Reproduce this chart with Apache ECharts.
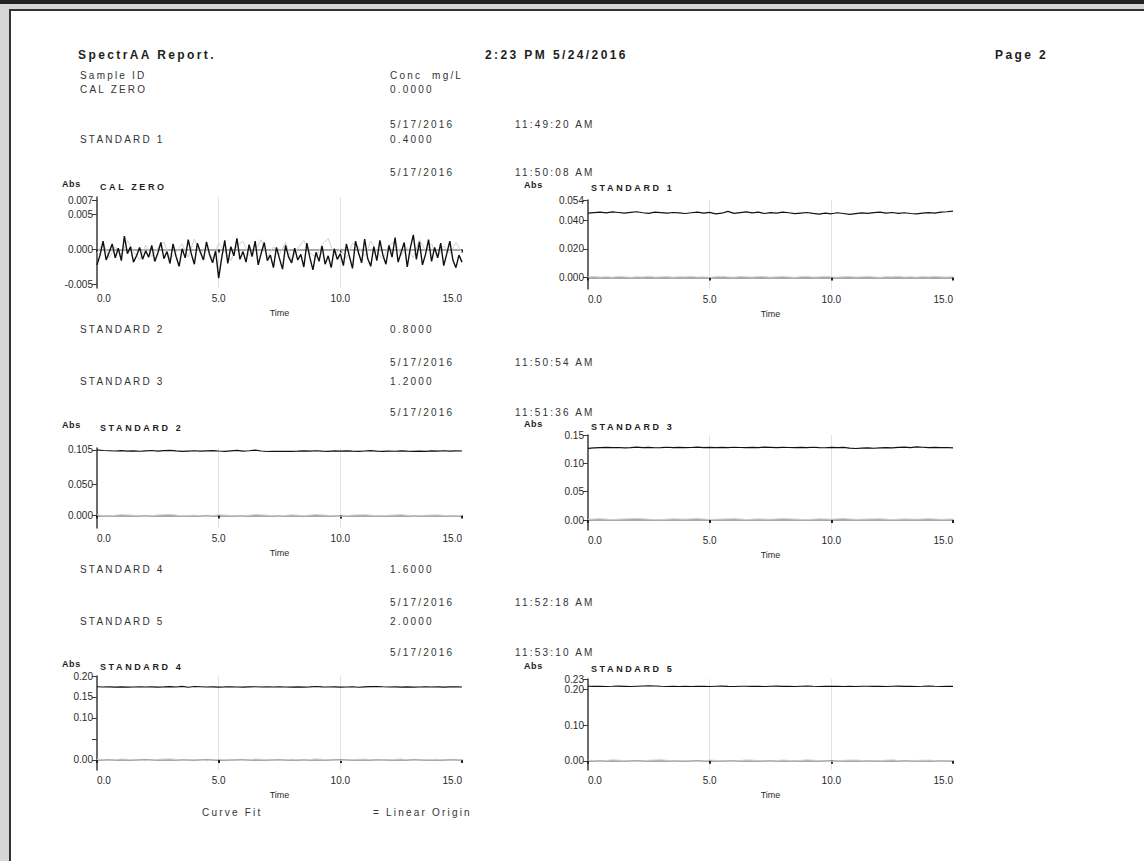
<!DOCTYPE html>
<html>
<head>
<meta charset="utf-8">
<title>SpectrAA Report</title>
<script src="https://cdn.jsdelivr.net/npm/echarts@6/dist/echarts.min.js"></script>
<style>
html,body{margin:0;padding:0;background:#d6d6d6;overflow:hidden;}
#topbar{position:absolute;left:0;top:0;width:1144px;height:4px;background:#222;}
#page{position:absolute;left:9px;top:9px;width:1140px;height:860px;background:#fff;border-left:2px solid #333;border-top:2px solid #333;}
#main{position:absolute;left:0;top:0;width:1144px;height:861px;}
#texts{position:absolute;left:0;top:0;width:1144px;height:861px;pointer-events:none;}
.t{position:absolute;white-space:pre;font-family:"Liberation Sans",Arial,sans-serif;font-size:10px;line-height:12px;height:12px;color:#333;letter-spacing:2.2px;}
.h{font-size:12px;line-height:14px;height:14px;font-weight:bold;color:#1e1e1e;letter-spacing:2.4px;}
.g{font-size:9px;font-weight:bold;color:#1e1e1e;letter-spacing:2.6px;}
.a{font-size:9px;line-height:10px;height:10px;font-weight:bold;color:#1e1e1e;letter-spacing:0.6px;}
</style>
</head>
<body>
<div id="topbar"></div>
<div id="page"></div>
<div id="main"></div>
<div id="texts"></div>
<script>
// time axes (min)
var timesFine = [0,0.125,0.25,0.375,0.5,0.625,0.75,0.875,
    1,1.125,1.25,1.375,1.5,1.625,1.75,1.875,
    2,2.125,2.25,2.375,2.5,2.625,2.75,2.875,
    3,3.125,3.25,3.375,3.5,3.625,3.75,3.875,
    4,4.125,4.25,4.375,4.5,4.625,4.75,4.875,
    5,5.125,5.25,5.375,5.5,5.625,5.75,5.875,
    6,6.125,6.25,6.375,6.5,6.625,6.75,6.875,
    7,7.125,7.25,7.375,7.5,7.625,7.75,7.875,
    8,8.125,8.25,8.375,8.5,8.625,8.75,8.875,
    9,9.125,9.25,9.375,9.5,9.625,9.75,9.875,
    10,10.125,10.25,10.375,10.5,10.625,10.75,10.875,
    11,11.125,11.25,11.375,11.5,11.625,11.75,11.875,
    12,12.125,12.25,12.375,12.5,12.625,12.75,12.875,
    13,13.125,13.25,13.375,13.5,13.625,13.75,13.875,
    14,14.125,14.25,14.375,14.5,14.625,14.75,14.875,15];
var timesCoarse = [0,0.25,0.5,0.75,1,1.25,1.5,1.75,2,2.25,2.5,2.75,3,3.25,3.5,3.75,
    4,4.25,4.5,4.75,5,5.25,5.5,5.75,6,6.25,6.5,6.75,7,7.25,7.5,7.75,
    8,8.25,8.5,8.75,9,9.25,9.5,9.75,10,10.25,10.5,10.75,11,11.25,11.5,11.75,
    12,12.25,12.5,12.75,13,13.25,13.5,13.75,14,14.25,14.5,14.75,15];
var timesHalf = [0,0.5,1,1.5,2,2.5,3,3.5,4,4.5,5,5.5,6,6.5,7,7.5,
    8,8.5,9,9.5,10,10.5,11,11.5,12,12.5,13,13.5,14,14.5,15];

// 吸光度 - CAL ZERO
var calZeroAbs = [-0.0022,-0.0008,0.0012,-0.0015,-0.0004,0.0008,-0.0012,0.0002,-0.0016,
    0.0019,-0.0006,0.0004,-0.0018,-0.0009,0.0003,-0.0014,-0.0002,
    -0.0011,0.0006,-0.0017,-0.0005,0.0010,-0.0013,-0.0003,-0.0020,
    0.0008,-0.0010,-0.0024,0.0001,-0.0012,0.0014,-0.0006,-0.0021,
    0.0009,-0.0004,-0.0015,0.0011,-0.0007,-0.0019,-0.0002,-0.0041,
    -0.0012,0.0013,-0.0020,0.0004,-0.0009,0.0016,-0.0014,-0.0003,
    -0.0018,0.0007,-0.0010,0.0012,-0.0022,-0.0005,0.0010,-0.0016,
    -0.0008,-0.0026,0.0003,-0.0013,-0.0028,0.0006,-0.0011,-0.0019,
    0.0002,-0.0015,-0.0007,-0.0025,0.0009,-0.0012,-0.0029,-0.0004,
    -0.0017,0.0005,-0.0021,-0.0009,-0.0026,0.0001,-0.0014,-0.0006,
    -0.0023,0.0008,-0.0010,-0.0027,0.0012,-0.0005,-0.0019,0.0015,
    -0.0013,-0.0024,0.0004,-0.0016,0.0013,-0.0008,-0.0021,0.0006,
    -0.0011,0.0017,-0.0018,-0.0004,0.0010,-0.0025,0.0002,0.0021,
    -0.0014,0.0011,-0.0022,-0.0007,0.0014,-0.0017,0.0003,-0.0012,
    0.0009,-0.0023,-0.0006,0.0012,-0.0015,-0.0026,-0.0008,-0.0018];
var calZeroBase = [-0.0005,0.0010,-0.0012,0.0004,-0.0008,0.0013,-0.0003,-0.0015,0.0006,-0.0010,
    0.0002,0.0011,-0.0014,-0.0004,0.0008,-0.0011,0.0015,-0.0006,0.0003,-0.0013,
    0.0009,-0.0002,-0.0016,0.0005,0.0012,-0.0009,-0.0001,0.0014,-0.0012,0.0004,
    -0.0007,0.0010,-0.0015,0.0002,0.0013,-0.0005,-0.0011,0.0007,0.0016,-0.0008,
    0.0001,-0.0013,0.0009,0.0004,-0.0010,0.0012,-0.0003,-0.0014,0.0006,0.0011,
    -0.0009,0.0003,-0.0012,0.0014,-0.0002,0.0008,-0.0011,0.0005,-0.0006,0.0010,-0.0004];

// STANDARD 1
var std1Abs = [0.0448,0.0452,0.0455,0.0450,0.0457,0.0453,0.0449,0.0454,0.0458,0.0451,
    0.0447,0.0455,0.0452,0.0448,0.0453,0.0450,0.0446,0.0451,0.0456,0.0449,
    0.0454,0.0443,0.0448,0.0461,0.0447,0.0452,0.0457,0.0450,0.0455,0.0446,
    0.0452,0.0449,0.0456,0.0451,0.0445,0.0449,0.0453,0.0447,0.0442,0.0448,
    0.0444,0.0451,0.0446,0.0440,0.0445,0.0450,0.0447,0.0452,0.0455,0.0449,
    0.0453,0.0447,0.0451,0.0446,0.0443,0.0448,0.0452,0.0449,0.0455,0.0458,0.0463];
var std1Base = [0.0004,0.0007,0.0003,0.0006,0.0002,0.0008,0.0005,0.0001,0.0006,0.0004,
    0.0009,0.0003,0.0005,0.0007,0.0002,0.0006,0.0004,0.0008,0.0003,0.0005,
    0.0001,0.0006,0.0009,0.0004,0.0002,0.0007,0.0005,0.0003,0.0008,0.0006,
    0.0002,0.0005,0.0007,0.0004,0.0001,0.0006,0.0008,0.0003,0.0005,0.0009,
    0.0004,0.0002,0.0006,0.0007,0.0003,0.0005,0.0008,0.0004,0.0001,0.0006,
    0.0005,0.0009,0.0003,0.0006,0.0002,0.0007,0.0004,0.0008,0.0005,0.0003,0.0006];

// STANDARD 2
var std2Abs = [0.1050,0.1040,0.1036,0.1032,0.1038,0.1030,0.1035,0.1028,0.1034,0.1040,
    0.1031,0.1037,0.1042,0.1033,0.1026,0.1031,0.1036,0.1029,0.1034,0.1039,
    0.1032,0.1027,0.1035,0.1041,0.1030,0.1036,0.1045,0.1032,0.1024,0.1028,
    0.1026,0.1025,0.1027,0.1030,0.1034,0.1029,0.1036,0.1031,0.1027,0.1033,
    0.1030,0.1035,0.1029,0.1026,0.1032,0.1037,0.1030,0.1025,0.1031,0.1028,
    0.1034,0.1029,0.1026,0.1031,0.1027,0.1033,0.1030,0.1036,0.1031,0.1034,0.1032];
var std2Base = [0.0010,-0.0008,0.0015,0.0003,-0.0012,0.0008,0.0018,-0.0005,0.0005,-0.0015,
    0.0012,0.0000,-0.0010,0.0016,0.0004,-0.0008,0.0011,-0.0003,0.0017,0.0002,
    -0.0013,0.0007,0.0013,-0.0005,0.0003,0.0015,-0.0010,0.0005,0.0010,-0.0007,0.0002];

// STANDARD 3
var std3Abs = [0.1265,0.1272,0.1278,0.1283,0.1276,0.1280,0.1274,0.1279,0.1285,0.1277,
    0.1281,0.1275,0.1279,0.1284,0.1278,0.1282,0.1276,0.1280,0.1286,0.1279,
    0.1283,0.1277,0.1281,0.1278,0.1284,0.1280,0.1276,0.1282,0.1279,0.1285,
    0.1281,0.1277,0.1283,0.1280,0.1276,0.1282,0.1278,0.1284,0.1279,0.1275,
    0.1281,0.1277,0.1283,0.1270,0.1262,0.1268,0.1273,0.1266,0.1272,0.1278,
    0.1274,0.1281,0.1287,0.1279,0.1290,0.1284,0.1278,0.1283,0.1276,0.1280,0.1274];
var std3Base = [0.0012,0.0025,0.0008,0.0020,0.0030,0.0014,0.0006,0.0022,0.0016,0.0028,
    0.0010,0.0018,0.0026,0.0009,0.0021,0.0013,0.0027,0.0017,0.0007,0.0023,
    0.0015,0.0029,0.0011,0.0019,0.0024,0.0008,0.0020,0.0014,0.0026,0.0012,0.0018];

// STANDARD 4
var std4Abs = [0.1745,0.1738,0.1742,0.1736,0.1740,0.1734,0.1739,0.1744,0.1737,0.1741,
    0.1735,0.1740,0.1746,0.1739,0.1752,0.1733,0.1748,0.1743,0.1738,0.1742,
    0.1736,0.1740,0.1745,0.1739,0.1735,0.1741,0.1744,0.1738,0.1742,0.1737,
    0.1743,0.1739,0.1735,0.1741,0.1736,0.1740,0.1748,0.1742,0.1737,0.1741,
    0.1735,0.1739,0.1744,0.1733,0.1740,0.1746,0.1750,0.1743,0.1738,0.1742,
    0.1736,0.1740,0.1734,0.1739,0.1743,0.1737,0.1741,0.1735,0.1740,0.1744,0.1738];
var std4Base = [0.0015,-0.0010,0.0022,0.0005,-0.0018,0.0012,0.0025,-0.0006,0.0008,-0.0020,
    0.0016,0.0001,-0.0014,0.0021,0.0006,-0.0011,0.0018,-0.0004,0.0024,0.0003,
    -0.0017,0.0010,0.0019,-0.0008,0.0004,0.0022,-0.0013,0.0007,0.0015,-0.0009,0.0003];

// STANDARD 5
var std5Abs = [0.2098,0.2092,0.2096,0.2090,0.2094,0.2099,0.2093,0.2088,0.2095,0.2102,
    0.2108,0.2104,0.2096,0.2090,0.2094,0.2091,0.2095,0.2089,0.2093,0.2097,
    0.2091,0.2095,0.2099,0.2093,0.2089,0.2094,0.2098,0.2092,0.2096,0.2090,
    0.2095,0.2099,0.2093,0.2097,0.2091,0.2096,0.2100,0.2094,0.2090,0.2095,
    0.2092,0.2096,0.2091,0.2095,0.2089,0.2094,0.2098,0.2092,0.2096,0.2090,
    0.2095,0.2099,0.2093,0.2097,0.2091,0.2095,0.2100,0.2094,0.2090,0.2096,0.2093];
var std5Base = [0.0018,-0.0012,0.0026,0.0006,-0.0021,0.0014,0.0030,-0.0008,0.0010,-0.0024,
    0.0019,0.0002,-0.0016,0.0025,0.0007,-0.0013,0.0021,-0.0005,0.0028,0.0004,
    -0.0020,0.0012,0.0023,-0.0009,0.0005,0.0026,-0.0015,0.0008,0.0018,-0.0011,0.0004];

// 样品表格 (报告文字)
var sampleRows = [
    ['Sample ID', 'Conc  mg/L', ''],
    ['CAL ZERO', '0.0000', ''],
    ['', '5/17/2016', '11:49:20 AM'],
    ['STANDARD 1', '0.4000', ''],
    ['', '5/17/2016', '11:50:08 AM'],
    ['STANDARD 2', '0.8000', ''],
    ['', '5/17/2016', '11:50:54 AM'],
    ['STANDARD 3', '1.2000', ''],
    ['', '5/17/2016', '11:51:36 AM'],
    ['STANDARD 4', '1.6000', ''],
    ['', '5/17/2016', '11:52:18 AM'],
    ['STANDARD 5', '2.0000', ''],
    ['', '5/17/2016', '11:53:10 AM']
];
var rowY = [76, 90, 125, 140, 173, 330, 363, 382, 413, 570, 603, 622, 653];

// 图形面板 (位置)
var panels = [
    {title:'CAL ZERO', left:97, top:197, bottom:288, min:-0.0055, max:0.0075, ticks:[-0.005,0,0.005,0.007], labels:[-0.005,0,0.005,0.007], digits:3, titleY:187, t:timesFine, v:calZeroAbs, bt:timesCoarse, bv:calZeroBase, width:1.4},
    {title:'STANDARD 1', left:588, top:200, bottom:289, min:-0.008, max:0.054, ticks:[0,0.02,0.04,0.054], labels:[0,0.02,0.04,0.054], digits:3, titleY:188, t:timesCoarse, v:std1Abs, bt:timesCoarse, bv:std1Base, width:1.2},
    {title:'STANDARD 2', left:97, top:448, bottom:528, min:-0.02, max:0.108, ticks:[0,0.05,0.105], labels:[0,0.05,0.105], digits:3, titleY:428, t:timesCoarse, v:std2Abs, bt:timesHalf, bv:std2Base, width:1.2},
    {title:'STANDARD 3', left:588, top:435, bottom:530, min:-0.0175, max:0.15, ticks:[0,0.05,0.1,0.15], labels:[0,0.05,0.1,0.15], digits:2, titleY:427, t:timesCoarse, v:std3Abs, bt:timesHalf, bv:std3Base, width:1.2},
    {title:'STANDARD 4', left:97, top:676, bottom:770, min:-0.024, max:0.2, ticks:[0,0.05,0.1,0.15,0.2], labels:[0,0.1,0.15,0.2], digits:2, titleY:667, t:timesCoarse, v:std4Abs, bt:timesHalf, bv:std4Base, width:1.1},
    {title:'STANDARD 5', left:588, top:679, bottom:770, min:-0.026, max:0.23, ticks:[0,0.1,0.2,0.23], labels:[0,0.1,0.2,0.23], digits:2, titleY:669, t:timesCoarse, v:std5Abs, bt:timesHalf, bv:std5Base, width:1.1}
];

var textColor = '#2a2a2a';
var fontFamily = '"Liberation Sans", Arial, sans-serif';

function pairs(xs, ys) {
    var out = [];
    for (var i = 0; i < xs.length && i < ys.length; i++) {
        out.push([xs[i], ys[i]]);
    }
    return out;
}

// 页面文字 (DOM)
var textBox = document.getElementById('texts');
function addText(text, x, y, cls) {
    var d = document.createElement('div');
    d.className = 't' + (cls ? ' ' + cls : '');
    d.textContent = text;
    d.style.left = x + 'px';
    d.style.top = (y - (cls === 'h' ? 7 : (cls === 'a' ? 5 : 6))) + 'px';
    textBox.appendChild(d);
}

addText('SpectrAA Report.', 78, 55, 'h');
addText('2:23 PM 5/24/2016', 485, 55, 'h');
addText('Page 2', 995, 55, 'h');
for (var r = 0; r < sampleRows.length; r++) {
    if (sampleRows[r][0]) addText(sampleRows[r][0], 80, rowY[r]);
    if (sampleRows[r][1]) addText(sampleRows[r][1], 390, rowY[r]);
    if (sampleRows[r][2]) addText(sampleRows[r][2], 515, rowY[r]);
}
addText('Curve Fit', 202, 813);
addText('= Linear Origin', 373, 813);

var grids = [], xAxes = [], yAxes = [], series = [];

panels.forEach(function (p, i) {
    grids.push({left: p.left, top: p.top, width: 365, height: p.bottom - p.top, outerBoundsMode: 'none'});
    xAxes.push({
        gridIndex: i, type: 'value', min: 0, max: 15, interval: 5,
        name: 'Time', nameLocation: 'middle', nameGap: 20,
        nameTextStyle: {fontSize: 9, color: textColor, fontFamily: fontFamily},
        axisLine: {lineStyle: {color: '#8c8c8c', width: 1.5}},
        axisTick: {show: true, length: 3, lineStyle: {color: '#222', width: 2}},
        axisLabel: {fontSize: 10, color: textColor, fontFamily: fontFamily, margin: 5,
            alignMinLabel: 'left', alignMaxLabel: 'right',
            formatter: function (v) { return v.toFixed(1); }},
        splitLine: {show: true, showMinLine: false, showMaxLine: false, lineStyle: {color: '#e3e3e3', width: 1}}
    });
    yAxes.push({
        gridIndex: i, type: 'value', min: p.min, max: p.max,
        axisLine: {show: true, lineStyle: {color: '#3a3a3a', width: 1.5}},
        axisTick: {show: true, length: 5, customValues: p.ticks, lineStyle: {color: '#3a3a3a', width: 1}},
        axisLabel: {customValues: p.labels, fontSize: 10, color: textColor, fontFamily: fontFamily, margin: 4,
            formatter: (function (d) { return function (v) { return v.toFixed(d); }; })(p.digits)},
        splitLine: {show: false}
    });
    // 基线 (灰)
    series.push({
        type: 'line', xAxisIndex: i, yAxisIndex: i, data: pairs(p.bt, p.bv),
        showSymbol: false, silent: true, lineStyle: {color: '#d0d0d0', width: 1}
    });
    // 吸光度 (黑)
    series.push({
        type: 'line', xAxisIndex: i, yAxisIndex: i, data: pairs(p.t, p.v),
        showSymbol: false, silent: true, lineStyle: {color: '#111', width: p.width}
    });
    addText(p.title, p.left + 3, p.titleY, 'g');
    addText('Abs', i % 2 === 0 ? 62 : 524, p.titleY - 3, 'a');
});

var myChart = echarts.init(document.getElementById('main'), null, {renderer: 'svg', width: 1144, height: 861});
myChart.setOption({
    animation: false,
    backgroundColor: 'rgba(0,0,0,0)',
    grid: grids,
    xAxis: xAxes,
    yAxis: yAxes,
    series: series
});
</script>
</body>
</html>
